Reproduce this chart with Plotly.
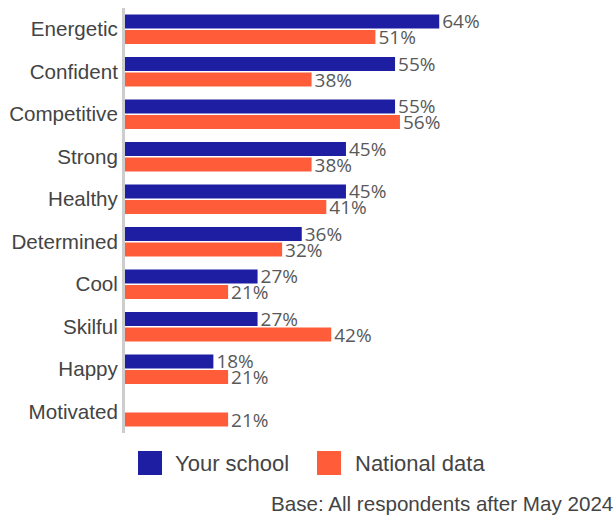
import plotly.graph_objects as go

# Survey results: share of respondents choosing each word
words = ["Energetic", "Confident", "Competitive", "Strong", "Healthy",
         "Determined", "Cool", "Skilful", "Happy", "Motivated"]
your_school = [64, 55, 55, 45, 45, 36, 27, 27, 18, None]
national_data = [51, 38, 56, 38, 41, 32, 21, 42, 21, 21]

series_names = ["Your school", "National data"]
series_colors = ["#1E1EA3", "#FF5C3A"]
footnote = "Base: All respondents after May 2024"

W, H = 616, 517
L, R, T, B = 125, 0, 8, 84
plot_w, plot_h = W - L - R, H - T - B


def px_x(p):
    return (p - L) / plot_w


def px_y(p):
    return (H - B - p) / plot_h


label_font = dict(family="Open Sans", size=19, color="#595959")
text_font = dict(family="Liberation Sans, Arial", color="#444444")

fig = go.Figure()
for name, vals, color in zip(series_names, [your_school, national_data], series_colors):
    fig.add_trace(go.Bar(
        name=name,
        y=words,
        x=vals,
        orientation="h",
        marker=dict(color=color, line=dict(width=0)),
        text=[f"{v}%" if v is not None else "" for v in vals],
        textposition="outside",
        textfont=label_font,
        cliponaxis=False,
        constraintext="none",
        showlegend=False,
        hoverinfo="skip",
    ))

# Legend drawn as large colour swatches with labels underneath the plot
legend_items = [
    (series_names[0], series_colors[0], 138, 173),
    (series_names[1], series_colors[1], 317, 353),
]
shapes = []
annotations = []
for name, color, sx, tx in legend_items:
    shapes.append(dict(
        type="rect", xref="paper", yref="paper",
        x0=px_x(sx), x1=px_x(sx + 24), y0=px_y(475), y1=px_y(451),
        fillcolor=color, line=dict(width=0),
    ))
    annotations.append(dict(
        text=name, xref="paper", yref="paper",
        x=px_x(tx), y=px_y(463), xanchor="left", yanchor="middle",
        showarrow=False, font=dict(size=22, **text_font),
    ))

annotations.append(dict(
    text=footnote, xref="paper", yref="paper",
    x=px_x(615), y=px_y(503), xanchor="right", yanchor="middle",
    showarrow=False, font=dict(size=20.6, **text_font),
))

fig.update_layout(
    width=W, height=H,
    margin=dict(l=L, r=R, t=T, b=B, pad=0),
    paper_bgcolor="white", plot_bgcolor="white",
    barmode="group", bargap=0.27, bargroupgap=0.1,
    shapes=shapes, annotations=annotations,
    xaxis=dict(range=[0, 100], visible=False, fixedrange=True),
    yaxis=dict(
        autorange="reversed",
        showline=True, linecolor="#CDCDCD", linewidth=3,
        showgrid=False, zeroline=False, ticks="",
        tickfont=dict(size=20.6, **text_font),
        fixedrange=True,
    ),
)

fig.write_html("out.html", config={"displayModeBar": False})
